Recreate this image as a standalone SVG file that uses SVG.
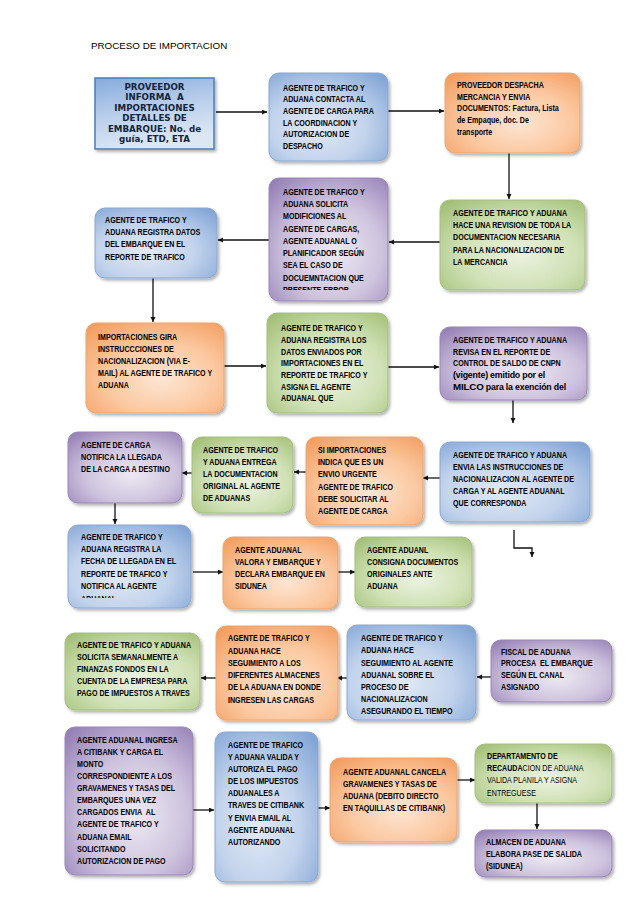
<svg xmlns="http://www.w3.org/2000/svg" width="638" height="903" viewBox="0 0 638 903">
<defs>
<radialGradient id="gB" cx="0.42" cy="0.62" r="0.8"><stop offset="0" stop-color="#e2eaf5"/><stop offset="0.5" stop-color="#c2d3ec"/><stop offset="1" stop-color="#80a3d5"/></radialGradient>
<radialGradient id="gO" cx="0.55" cy="0.62" r="0.8"><stop offset="0" stop-color="#fde6d4"/><stop offset="0.5" stop-color="#fbc8a0"/><stop offset="1" stop-color="#f29a5b"/></radialGradient>
<radialGradient id="gG" cx="0.55" cy="0.6" r="0.8"><stop offset="0" stop-color="#ecf3e1"/><stop offset="0.5" stop-color="#cfe1b5"/><stop offset="1" stop-color="#9dbb6f"/></radialGradient>
<radialGradient id="gP" cx="0.55" cy="0.6" r="0.8"><stop offset="0" stop-color="#ede9f3"/><stop offset="0.5" stop-color="#cec3de"/><stop offset="1" stop-color="#8f79b1"/></radialGradient>
<linearGradient id="g1" x1="0" y1="0" x2="0.3" y2="1"><stop offset="0" stop-color="#86abdc"/><stop offset="0.55" stop-color="#bcd0ec"/><stop offset="1" stop-color="#dde7f4"/></linearGradient>
<filter id="sh" x="-10%" y="-10%" width="125%" height="130%"><feDropShadow dx="1.8" dy="2.2" stdDeviation="1.6" flood-color="#000" flood-opacity="0.3"/></filter>
<marker id="ah" markerUnits="userSpaceOnUse" markerWidth="6" markerHeight="6" refX="5" refY="2.5" orient="auto"><path d="M0,0 L5,2.5 L0,5 z" fill="#111"/></marker>
<clipPath id="c5"><rect x="269" y="178" width="119" height="112"/></clipPath>
<clipPath id="c14"><rect x="68" y="525" width="123" height="73"/></clipPath>
</defs>
<style>
.t{font-family:"Liberation Sans",Arial,Helvetica,sans-serif;font-size:9px;font-weight:bold;fill:#000}
.r{font-weight:normal}
.h{font-family:"DejaVu Sans",Verdana,sans-serif;font-size:8.7px;font-weight:bold;fill:#14243c;text-anchor:middle}
.ti{font-family:"Liberation Sans",Arial,sans-serif;font-size:9.8px;fill:#000}
.n{filter:url(#sh);stroke-width:1}
.bl{fill:url(#gB);stroke:#8aa8d3}
.or{fill:url(#gO);stroke:#f0a56e}
.gr{fill:url(#gG);stroke:#a5c07e}
.pu{fill:url(#gP);stroke:#9a86b8}
.c{fill:none;stroke:#111;stroke-width:1.3;marker-end:url(#ah)}
</style>
<rect width="638" height="903" fill="#fff"/>
<text class="ti" x="91" y="49">PROCESO DE IMPORTACION</text>

<g id="connectors">
<path class="c" d="M216,112 H267"/>
<path class="c" d="M388,111 H444"/>
<path class="c" d="M509,153 V199"/>
<path class="c" d="M440,242 H389"/>
<path class="c" d="M269,240 H218"/>
<path class="c" d="M153,278 V322"/>
<path class="c" d="M224,366 H266"/>
<path class="c" d="M388,367 H439"/>
<path class="c" d="M513,400 V423"/>
<path class="c" d="M440,478 H423"/>
<path class="c" d="M306,472 H294"/>
<path class="c" d="M192,473 H182"/>
<path class="c" d="M115,503 V524"/>
<path class="c" d="M193,572 H223"/>
<path class="c" d="M338,572 H355"/>
<path class="c" d="M514,530 V548 H532 V557"/>
<path class="c" d="M491,677 H477"/>
<path class="c" d="M347,678 H337"/>
<path class="c" d="M216,678 H201"/>
<path class="c" d="M193,810 H214"/>
<path class="c" d="M318,808 H330"/>
<path class="c" d="M457,780 H475"/>
<path class="c" d="M537,803 V829"/>
</g>

<g id="n1">
<rect x="95" y="78" width="119" height="71" fill="url(#g1)" stroke="#4a7ebb" stroke-width="1.5" filter="url(#sh)"/>
<text class="h"><tspan x="154.5" y="90">PROVEEDOR</tspan><tspan x="154.5" y="100.4">INFORMA&#160; A</tspan><tspan x="154.5" y="110.8">IMPORTACIONES</tspan><tspan x="154.5" y="121.2">DETALLES DE</tspan><tspan x="154.5" y="131.6">EMBARQUE: No. de</tspan><tspan x="154.5" y="142">guía, ETD, ETA</tspan></text>
</g>

<g id="n2">
<rect class="n bl" x="269" y="73" width="119" height="88" rx="10"/>
<text class="t" transform="translate(283,90.5) scale(0.79,1)"><tspan x="0">AGENTE DE TRAFICO Y</tspan><tspan x="0" dy="11.7">ADUANA CONTACTA AL</tspan><tspan x="0" dy="11.7">AGENTE DE CARGA PARA</tspan><tspan x="0" dy="11.7">LA COORDINACION Y</tspan><tspan x="0" dy="11.7">AUTORIZACION DE</tspan><tspan x="0" dy="11.7">DESPACHO</tspan></text>
</g>

<g id="n3">
<rect class="n or" x="445" y="73" width="135" height="80" rx="10"/>
<text class="t" transform="translate(457,88) scale(0.79,1)"><tspan x="0">PROVEEDOR DESPACHA</tspan><tspan x="0" dy="11.7">MERCANCIA Y ENVIA</tspan><tspan x="0" dy="11.7">DOCUMENTOS: Factura, Lista</tspan><tspan x="0" dy="11.7">de Empaque, doc. De</tspan><tspan x="0" dy="11.7">transporte</tspan></text>
</g>

<g id="n4">
<rect class="n gr" x="440" y="200" width="145" height="90" rx="10"/>
<text class="t" transform="translate(453,216.3) scale(0.79,1)"><tspan x="0">AGENTE DE TRAFICO Y ADUANA</tspan><tspan x="0" dy="12.1">HACE UNA REVISION DE TODA LA</tspan><tspan x="0" dy="12.1">DOCUMENTACION NECESARIA</tspan><tspan x="0" dy="12.1">PARA LA NACIONALIZACION DE</tspan><tspan x="0" dy="12.1">LA MERCANCIA</tspan></text>
</g>

<g id="n5">
<rect class="n pu" x="269" y="178" width="119" height="123" rx="10"/>
<g clip-path="url(#c5)">
<text class="t" transform="translate(283,194.7) scale(0.79,1)"><tspan x="0">AGENTE DE TRAFICO Y</tspan><tspan x="0" dy="12.3">ADUANA SOLICITA</tspan><tspan x="0" dy="12.3">MODIFICIONES AL</tspan><tspan x="0" dy="12.3">AGENTE DE CARGAS,</tspan><tspan x="0" dy="12.3">AGENTE ADUANAL O</tspan><tspan x="0" dy="12.3">PLANIFICADOR SEGÚN</tspan><tspan x="0" dy="12.3">SEA EL CASO DE</tspan><tspan x="0" dy="12.3">DOCUEMNTACION QUE</tspan><tspan x="0" dy="12.3">PRESENTE ERROR</tspan></text>
</g>
</g>

<g id="n6">
<rect class="n bl" x="95" y="208" width="122" height="70" rx="10"/>
<text class="t" transform="translate(105,223) scale(0.79,1)"><tspan x="0">AGENTE DE TRAFICO Y</tspan><tspan x="0" dy="12.2">ADUANA REGISTRA DATOS</tspan><tspan x="0" dy="12.2">DEL EMBARQUE EN EL</tspan><tspan x="0" dy="12.2">REPORTE DE TRAFICO</tspan></text>
</g>

<g id="n7">
<rect class="n or" x="86" y="323" width="138" height="90" rx="10"/>
<text class="t" transform="translate(98,339.7) scale(0.79,1)"><tspan x="0">IMPORTACIONES GIRA</tspan><tspan x="0" dy="12.1">INSTRUCCCIONES DE</tspan><tspan x="0" dy="12.1">NACIONALIZACION (VIA E-</tspan><tspan x="0" dy="12.1">MAIL) AL AGENTE DE TRAFICO Y</tspan><tspan x="0" dy="12.1">ADUANA</tspan></text>
</g>

<g id="n8">
<rect class="n gr" x="267" y="313" width="121" height="100" rx="10"/>
<text class="t" transform="translate(281,331.3) scale(0.79,1)"><tspan x="0">AGENTE DE TRAFICO Y</tspan><tspan x="0" dy="11.7">ADUANA REGISTRA LOS</tspan><tspan x="0" dy="11.7">DATOS ENVIADOS POR</tspan><tspan x="0" dy="11.7">IMPORTACIONES EN EL</tspan><tspan x="0" dy="11.7">REPORTE DE TRAFICO Y</tspan><tspan x="0" dy="11.7">ASIGNA EL AGENTE</tspan><tspan x="0" dy="11.7">ADUANAL QUE</tspan></text>
</g>

<g id="n9">
<rect class="n pu" x="440" y="327" width="147" height="73" rx="10"/>
<text class="t" transform="translate(453,343) scale(0.79,1)"><tspan x="0">AGENTE DE TRAFICO Y ADUANA</tspan><tspan x="0" dy="11.7">REVISA EN EL REPORTE DE</tspan><tspan x="0" dy="11.7">CONTROL DE SALDO DE CNPN</tspan></text>
<text class="t" style="font-size:8.8px;letter-spacing:-0.2px"><tspan x="453" y="378">(vigente) emitido por el</tspan><tspan x="453" y="390"><tspan style="font-size:9.8px">MILCO</tspan> para la exención del</tspan></text>
</g>

<g id="n10">
<rect class="n bl" x="440" y="442" width="150" height="80" rx="10"/>
<text class="t" transform="translate(453,458) scale(0.79,1)"><tspan x="0">AGENTE DE TRAFICO Y ADUANA</tspan><tspan x="0" dy="12.1">ENVIA LAS INSTRUCCIONES DE</tspan><tspan x="0" dy="12.1">NACIONALIZACION AL AGENTE DE</tspan><tspan x="0" dy="12.1">CARGA Y AL AGENTE ADUANAL</tspan><tspan x="0" dy="12.1">QUE CORRESPONDA</tspan></text>
</g>

<g id="n11">
<rect class="n or" x="306" y="437" width="117" height="88" rx="10"/>
<text class="t" transform="translate(318,453) scale(0.79,1)"><tspan x="0">SI IMPORTACIONES</tspan><tspan x="0" dy="12.2">INDICA QUE ES UN</tspan><tspan x="0" dy="12.2">ENVIO URGENTE</tspan><tspan x="0" dy="12.2">AGENTE DE TRAFICO</tspan><tspan x="0" dy="12.2">DEBE SOLICITAR AL</tspan><tspan x="0" dy="12.2">AGENTE DE CARGA</tspan></text>
</g>

<g id="n12">
<rect class="n gr" x="192" y="437" width="101" height="76" rx="10"/>
<text class="t" transform="translate(203,453) scale(0.79,1)"><tspan x="0">AGENTE DE TRAFICO</tspan><tspan x="0" dy="12.1">Y ADUANA ENTREGA</tspan><tspan x="0" dy="12.1">LA DOCUMENTACION</tspan><tspan x="0" dy="12.1">ORIGINAL AL AGENTE</tspan><tspan x="0" dy="12.1">DE ADUANAS</tspan></text>
</g>

<g id="n13">
<rect class="n pu" x="68" y="432" width="114" height="71" rx="10"/>
<text class="t" transform="translate(81,448) scale(0.79,1)"><tspan x="0">AGENTE DE CARGA</tspan><tspan x="0" dy="12.2">NOTIFICA LA LLEGADA</tspan><tspan x="0" dy="12.2">DE LA CARGA A DESTINO</tspan></text>
</g>

<g id="n14">
<rect class="n bl" x="68" y="525" width="123" height="83" rx="10"/>
<g clip-path="url(#c14)">
<text class="t" transform="translate(81,539.7) scale(0.79,1)"><tspan x="0">AGENTE DE TRAFICO Y</tspan><tspan x="0" dy="12.4">ADUANA REGISTRA LA</tspan><tspan x="0" dy="12.4">FECHA DE LLEGADA EN EL</tspan><tspan x="0" dy="12.4">REPORTE DE TRAFICO Y</tspan><tspan x="0" dy="12.4">NOTIFICA AL AGENTE</tspan><tspan x="0" dy="12.4">ADUANAL</tspan></text>
</g>
</g>

<g id="n15">
<rect class="n or" x="223" y="537" width="115" height="72" rx="10"/>
<text class="t" transform="translate(235,553) scale(0.79,1)"><tspan x="0">AGENTE ADUANAL</tspan><tspan x="0" dy="12">VALORA Y EMBARQUE Y</tspan><tspan x="0" dy="12">DECLARA EMBARQUE EN</tspan><tspan x="0" dy="12">SIDUNEA</tspan></text>
</g>

<g id="n16">
<rect class="n gr" x="355" y="537" width="117" height="70" rx="10"/>
<text class="t" transform="translate(367,553) scale(0.79,1)"><tspan x="0">AGENTE ADUANL</tspan><tspan x="0" dy="12">CONSIGNA DOCUMENTOS</tspan><tspan x="0" dy="12">ORIGINALES ANTE</tspan><tspan x="0" dy="12">ADUANA</tspan></text>
</g>

<g id="n17">
<rect class="n pu" x="491" y="640" width="121" height="62" rx="10"/>
<text class="t" transform="translate(501,654.7) scale(0.79,1)"><tspan x="0">FISCAL DE ADUANA</tspan><tspan x="0" dy="11.7">PROCESA&#160; EL EMBARQUE</tspan><tspan x="0" dy="11.7">SEGÚN EL CANAL</tspan><tspan x="0" dy="11.7">ASIGNADO</tspan></text>
</g>

<g id="n18">
<rect class="n bl" x="347" y="625" width="129" height="95" rx="10"/>
<text class="t" transform="translate(361,641.3) scale(0.79,1)"><tspan x="0">AGENTE DE TRAFICO Y</tspan><tspan x="0" dy="12.2">ADUANA HACE</tspan><tspan x="0" dy="12.2">SEGUIMIENTO AL AGENTE</tspan><tspan x="0" dy="12.2">ADUANAL SOBRE EL</tspan><tspan x="0" dy="12.2">PROCESO DE</tspan><tspan x="0" dy="12.2">NACIONALIZACION</tspan><tspan x="0" dy="12.2">ASEGURANDO EL TIEMPO</tspan></text>
</g>

<g id="n19">
<rect class="n or" x="216" y="626" width="122" height="94" rx="10"/>
<text class="t" transform="translate(228,641.3) scale(0.79,1)"><tspan x="0">AGENTE DE TRAFICO Y</tspan><tspan x="0" dy="12.3">ADUANA HACE</tspan><tspan x="0" dy="12.3">SEGUIMIENTO A LOS</tspan><tspan x="0" dy="12.3">DIFERENTES ALMACENES</tspan><tspan x="0" dy="12.3">DE LA ADUANA EN DONDE</tspan><tspan x="0" dy="12.3">INGRESEN LAS CARGAS</tspan></text>
</g>

<g id="n20">
<rect class="n gr" x="65" y="633" width="135" height="77" rx="10"/>
<text class="t" transform="translate(77,648) scale(0.79,1)"><tspan x="0">AGENTE DE TRAFICO Y ADUANA</tspan><tspan x="0" dy="12.1">SOLICITA SEMANALMENTE A</tspan><tspan x="0" dy="12.1">FINANZAS FONDOS EN LA</tspan><tspan x="0" dy="12.1">CUENTA DE LA EMPRESA PARA</tspan><tspan x="0" dy="12.1">PAGO DE IMPUESTOS A TRAVES</tspan></text>
</g>

<g id="n21">
<rect class="n pu" x="65" y="727" width="128" height="148" rx="10"/>
<text class="t" transform="translate(77,743) scale(0.79,1)"><tspan x="0">AGENTE ADUANAL INGRESA</tspan><tspan x="0" dy="12.07">A CITIBANK Y CARGA EL</tspan><tspan x="0" dy="12.07">MONTO</tspan><tspan x="0" dy="12.07">CORRESPONDIENTE A LOS</tspan><tspan x="0" dy="12.07">GRAVAMENES Y TASAS DEL</tspan><tspan x="0" dy="12.07">EMBARQUES UNA VEZ</tspan><tspan x="0" dy="12.07">CARGADOS ENVIA&#160; AL</tspan><tspan x="0" dy="12.07">AGENTE DE TRAFICO Y</tspan><tspan x="0" dy="12.07">ADUANA EMAIL</tspan><tspan x="0" dy="12.07">SOLICITANDO</tspan><tspan x="0" dy="12.07">AUTORIZACION DE PAGO</tspan></text>
</g>

<g id="n22">
<rect class="n bl" x="215" y="732" width="103" height="150" rx="10"/>
<text class="t" transform="translate(228,748) scale(0.79,1)"><tspan x="0">AGENTE DE TRAFICO</tspan><tspan x="0" dy="12.1">Y ADUANA VALIDA Y</tspan><tspan x="0" dy="12.1">AUTORIZA EL PAGO</tspan><tspan x="0" dy="12.1">DE LOS IMPUESTOS</tspan><tspan x="0" dy="12.1">ADUANALES A</tspan><tspan x="0" dy="12.1">TRAVES DE CITIBANK</tspan><tspan x="0" dy="12.1">Y ENVIA EMAIL AL</tspan><tspan x="0" dy="12.1">AGENTE ADUANAL</tspan><tspan x="0" dy="12.1">AUTORIZANDO</tspan></text>
</g>

<g id="n23">
<rect class="n or" x="330" y="758" width="127" height="84" rx="10"/>
<text class="t" transform="translate(343,774.7) scale(0.79,1)"><tspan x="0">AGENTE ADUANAL CANCELA</tspan><tspan x="0" dy="12.2">GRAVAMENES Y TASAS DE</tspan><tspan x="0" dy="12.2">ADUANA (DEBITO DIRECTO</tspan><tspan x="0" dy="12.2">EN TAQUILLAS DE CITIBANK)</tspan></text>
</g>

<g id="n24">
<rect class="n gr" x="475" y="744" width="137" height="59" rx="10"/>
<text class="t" transform="translate(487,759) scale(0.79,1)"><tspan x="0">DEPARTAMENTO DE</tspan><tspan x="0" dy="12.2">RECAUDA<tspan class="r">CION DE ADUANA</tspan></tspan><tspan class="r" x="0" dy="12.2">VALIDA PLANILA Y ASIGNA</tspan><tspan class="r" x="0" dy="12.2">ENTREGUESE</tspan></text>
</g>

<g id="n25">
<rect class="n pu" x="475" y="830" width="137" height="47" rx="10"/>
<text class="t" transform="translate(486,844.7) scale(0.79,1)"><tspan x="0">ALMACEN DE ADUANA</tspan><tspan x="0" dy="12.4">ELABORA PASE DE SALIDA</tspan><tspan x="0" dy="12.4">(SIDUNEA)</tspan></text>
</g>
</svg>
